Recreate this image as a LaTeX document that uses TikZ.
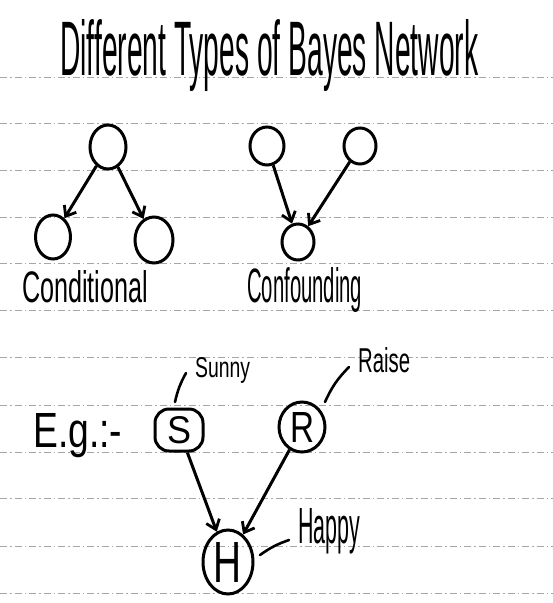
\documentclass[tikz,border=0pt]{standalone}
\usepackage{fontspec}
\setmainfont{Liberation Sans}
\usetikzlibrary{arrows.meta,shapes.geometric}
\newcommand{\hw}[3]{\resizebox{#1}{#2}{#3}}
\begin{document}
\begin{tikzpicture}[x=1pt,y=-1pt,
  rule/.style={gray!70, line width=0.7pt, dash pattern=on 7pt off 3pt on 1.5pt off 3pt},
  bnode/.style={draw, ellipse, line width=3pt, inner sep=0pt},
  arr/.style={line width=3pt, -{Straight Barb[length=9pt,width=14pt,line width=2.8pt]}},
  lbl/.style={anchor=base west, inner sep=0pt},
  tie/.style={line width=2.6pt, line cap=round}
]
\useasboundingbox (0,0) rectangle (553,603);
\fill[white] (0,0) rectangle (553,603);
% ruled lines
\foreach \yy in {77,123,170,217,263,310,357,405,452,498,546,593}
  \draw[rule] (0,\yy) -- (553,\yy);
% title
\node[lbl] (title) at (60,75) {\hw{418pt}{56pt}{Different Types of Bayes Network}};
% conditional
\node[bnode, minimum width=36pt, minimum height=44pt] (ct) at (108,147) {};
\node[bnode, minimum width=35pt, minimum height=44pt] (cl) at (53,237) {};
\node[bnode, minimum width=38pt, minimum height=46pt] (cr) at (154,240) {};
\draw[arr] (ct) -- (cl);
\draw[arr] (ct) -- (cr);
\node[lbl] (condlab) at (22,302) {\hw{126pt}{32pt}{Conditional}};
% confounding
\node[bnode, minimum width=34pt, minimum height=38pt] (fa) at (267,146) {};
\node[bnode, minimum width=32pt, minimum height=36pt] (fb) at (360,146) {};
\node[bnode, minimum width=32pt, minimum height=36pt] (fc) at (298,242) {};
\draw[arr] (fa) -- (fc);
\draw[arr] (fb) -- (fc);
\node[lbl] (conflab) at (247,302) {\hw{115pt}{35pt}{Confounding}};
% example
\node[lbl] (eg) at (33,447) {\hw{89pt}{34pt}{E.g.:-}};
\node[draw, rectangle, rounded corners=14pt, line width=3pt, minimum width=48pt, minimum height=42pt, inner sep=0pt] (S) at (179,430) {\hw{24pt}{27pt}{S}};
\node[bnode, minimum width=46pt, minimum height=50pt] (R) at (302,427) {\hw{24pt}{30pt}{R}};
\node[bnode, minimum width=50pt, minimum height=64pt] (H) at (228,562) {\hw{28pt}{40pt}{H}};
\draw[arr] (S) -- (H);
\draw[arr] (R) -- (H);
% labels
\node[lbl] (sunny) at (195,377) {\hw{55pt}{20pt}{Sunny}};
\node[lbl] (raise) at (358,372) {\hw{52pt}{25pt}{Raise}};
\node[lbl] (happy) at (298,543) {\hw{62pt}{35pt}{Happy}};
\coordinate (sa) at (175,402);
\coordinate (sb) at (186,373);
\draw[tie] (sa) to[bend left=8] (sb);
\coordinate (ra) at (325,402);
\coordinate (rb) at (349,367);
\draw[tie] (ra) to[bend left=10] (rb);
\coordinate (ha) at (260,555);
\coordinate (hb) at (289,540);
\draw[tie] (ha) to[bend left=8] (hb);
\end{tikzpicture}
\end{document}
